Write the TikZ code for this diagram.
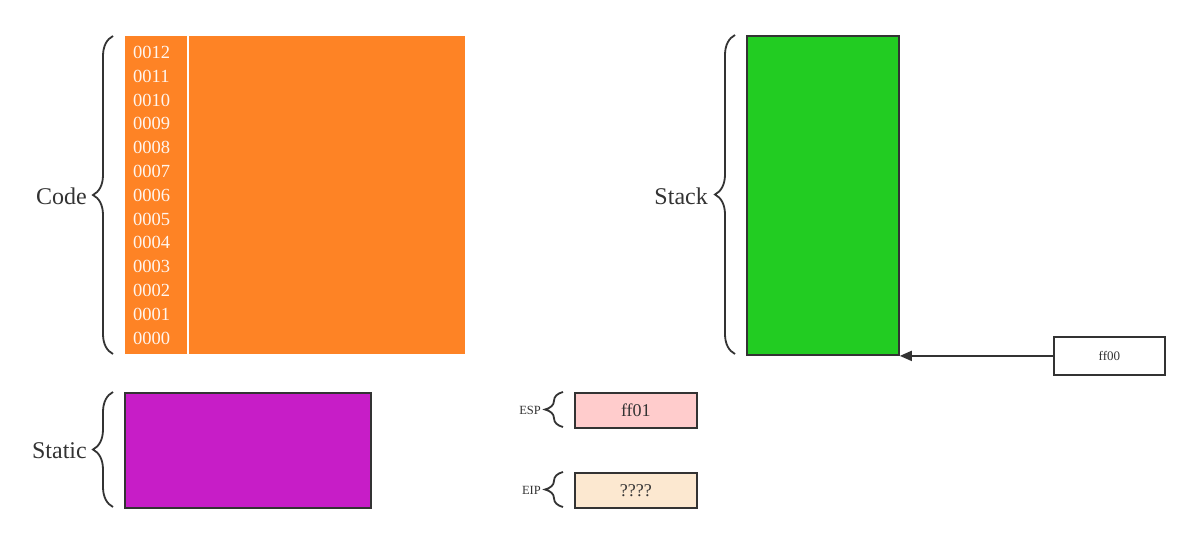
\documentclass[tikz,border=0pt]{standalone}
\usepackage{fontspec}
\setmainfont{Liberation Serif}
\usetikzlibrary{decorations.pathreplacing,arrows.meta}
\definecolor{codeor}{HTML}{FE8325}
\definecolor{stackgr}{HTML}{22CC22}
\definecolor{statmag}{HTML}{C71DC7}
\definecolor{esppink}{HTML}{FFCCCC}
\definecolor{eipbeige}{HTML}{FCE8D0}
\definecolor{edge}{HTML}{333333}
\definecolor{txt}{HTML}{333333}
\tikzset{
  x=1pt,y=-1pt,
  region/.style={draw=edge,line width=1.8pt,inner sep=0pt,anchor=north west},
  bracefx/.style={decorate,decoration={brace,amplitude=20pt},draw=edge,line width=1.8pt},
  biglabel/.style={font=\fontsize{24}{26}\selectfont,text=txt,anchor=east,inner sep=0pt},
  smalllabel/.style={font=\fontsize{12.5}{13}\selectfont,text=txt,anchor=east,inner sep=0pt},
  addr/.style={font=\fontsize{18.5}{20}\selectfont,text=white!92!codeor,anchor=west,inner sep=0pt},
  regtext/.style={font=\fontsize{18}{20}\selectfont,text=txt}
}
\begin{document}
\begin{tikzpicture}
\useasboundingbox (0,0) rectangle (1200,541);
% Code
\node[anchor=north west,fill=codeor,minimum width=340pt,minimum height=318pt,inner sep=0pt] (code) at (125,36) {};
\draw[white,line width=2pt] (188,36) -- (188,354);
\foreach \a [count=\i from 0] in {0000,0001,0002,0003,0004,0005,0006,0007,0008,0009,0010,0011,0012}{
  \node[addr] (addr\a) at (133,{338-23.8*\i}) {\a};
}
\coordinate (cb1) at (113,354); \coordinate (ct1) at (113,36);
\draw[bracefx] (cb1) -- (ct1);
\node[biglabel] (codel) at (87,196) {Code};
% Stack
\node[region,fill=stackgr,minimum width=152pt,minimum height=319pt] (stack) at (746,35) {};
\coordinate (sb1) at (735,354); \coordinate (st1) at (735,35);
\draw[bracefx] (sb1) -- (st1);
\node[biglabel] (stackl) at (708,196) {Stack};
% ff00
\node[region,fill=white,minimum width=111pt,minimum height=38pt] (ff00) at (1053,336) {};
\node[font=\fontsize{13}{14}\selectfont,text=txt] (ff00t) at (ff00.center) {ff00};
\draw[edge,line width=1.8pt,-{Triangle[length=12pt,width=10pt]}] (ff00.west) -- (ff00.west -| stack.east);
% Static
\node[region,fill=statmag,minimum width=246pt,minimum height=115pt] (static) at (124,392) {};
\coordinate (stb) at (113,507); \coordinate (stt) at (113,392);
\draw[bracefx] (stb) -- (stt);
\node[biglabel] (staticl) at (87,451) {Static};
% ESP
\node[region,fill=esppink,minimum width=122pt,minimum height=35pt] (esp) at (574,392) {};
\node[regtext] (espt) at (esp.center) {ff01};
\coordinate (eb) at (563,427); \coordinate (et) at (563,392);
\draw[bracefx,decoration={amplitude=18pt}] (eb) -- (et);
\node[smalllabel] (espl) at (541,410) {ESP};
% EIP
\node[region,fill=eipbeige,minimum width=122pt,minimum height=35pt] (eip) at (574,472) {};
\node[regtext] (eipt) at (eip.center) {????};
\coordinate (ib) at (563,507); \coordinate (it) at (563,472);
\draw[bracefx,decoration={amplitude=18pt}] (ib) -- (it);
\node[smalllabel] (eipl) at (541,490) {EIP};
\end{tikzpicture}
\end{document}
